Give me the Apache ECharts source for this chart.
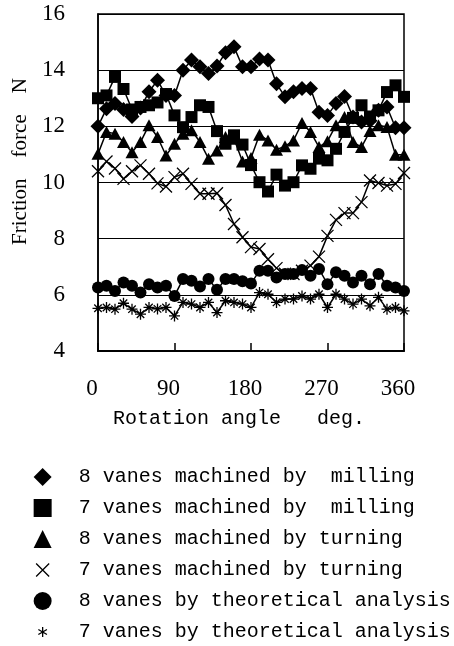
<!DOCTYPE html>
<html>
<head>
<meta charset="utf-8">
<style>
  html, body { margin: 0; padding: 0; background: #fff; }
  #main { width: 454px; height: 646px; }
</style>
<script src="https://cdn.jsdelivr.net/npm/echarts@6/dist/echarts.min.js"></script>
</head>
<body>
<div id="main"></div>
<script>
// rotation angle, deg
var angles = [0, 10, 20, 30, 40, 50, 60, 70, 80, 90, 100, 110, 120, 130, 140, 150, 160, 170, 180,
  190, 200, 210, 220, 230, 240, 250, 260, 270, 280, 290, 300, 310, 320, 330, 340, 350, 360];

// friction force, N
var mill8 = [12.0, 12.63, 12.81, 12.6, 12.35, 12.65, 13.23, 13.64, 13.1, 13.1, 14.0, 14.36, 14.12,
  13.88, 14.15, 14.62, 14.83, 14.12, 14.12, 14.4, 14.36, 13.52, 13.05, 13.23, 13.35, 13.35, 12.5,
  12.39, 12.81, 13.06, 12.33, 12.15, 12.2, 12.57, 12.69, 11.95, 11.95];
var mill7 = [13.0, 13.1, 13.76, 13.33, 12.6, 12.69, 12.75, 12.85, 13.15, 12.39, 11.97, 12.33, 12.75,
  12.69, 11.83, 11.38, 11.68, 11.35, 10.62, 10.01, 9.68, 10.28, 9.89, 10.01, 10.61, 10.49, 10.85,
  10.79, 11.2, 11.8, 12.3, 12.75, 12.35, 12.57, 13.22, 13.46, 13.05];
var turn8 = [11.02, 11.8, 11.74, 11.44, 11.08, 11.44, 12.04, 11.62, 10.96, 11.38, 11.74, 11.86, 11.44,
  10.85, 11.14, 11.62, 11.56, 10.75, 10.87, 11.7, 11.5, 11.17, 11.29, 11.5, 12.12, 11.8, 11.26,
  11.47, 12.04, 12.33, 11.44, 11.26, 11.83, 12.04, 11.98, 10.99, 10.99];
var turn7 = [10.4, 10.75, 10.5, 10.13, 10.4, 10.61, 10.31, 9.97, 9.86, 10.19, 10.31, 9.95, 9.6,
  9.6, 9.62, 9.2, 8.52, 8.05, 7.7, 7.63, 7.27, 6.95, 6.75, 6.74, 6.86, 7.04, 7.36,
  8.1, 8.67, 8.91, 8.91, 9.3, 10.07, 9.98, 9.89, 9.95, 10.34];
var theory8 = [6.26, 6.32, 6.14, 6.44, 6.32, 6.08, 6.38, 6.26, 6.32, 5.96, 6.56, 6.5, 6.3,
  6.56, 6.18, 6.56, 6.56, 6.48, 6.4, 6.86, 6.86, 6.62, 6.74, 6.74, 6.88, 6.68, 6.92,
  6.38, 6.8, 6.68, 6.44, 6.68, 6.38, 6.74, 6.32, 6.26, 6.14];
var theory7 = [5.52, 5.55, 5.49, 5.7, 5.49, 5.31, 5.55, 5.5, 5.55, 5.25, 5.73, 5.67, 5.55,
  5.73, 5.37, 5.79, 5.73, 5.67, 5.55, 6.08, 6.02, 5.73, 5.85, 5.85, 5.96, 5.85, 6.02,
  5.55, 6.02, 5.85, 5.67, 5.85, 5.61, 5.91, 5.49, 5.55, 5.43];

var names = [
  '8 vanes machined by  milling',
  '7 vanes machined by  milling',
  '8 vanes machined by turning',
  '7 vanes machined by turning',
  '8 vanes by theoretical analysis',
  '7 vanes by theoretical analysis'
];

var crossPath = 'path://M0,0L10,10M10,0L0,10';
var starPath = 'path://M0,5L10,5M5,0L5,10M1.6,1.6L8.4,8.4M8.4,1.6L1.6,8.4';
// legend icons keep some empty room around the strokes
var crossIcon = 'path://M0,0M18,18M2.5,2.5L15.5,15.5M15.5,2.5L2.5,15.5';
var starIcon = 'path://M0,0M18,18M9,4L9,14M4.7,6.5L13.3,11.5M4.7,11.5L13.3,6.5';

function pairs(values) {
  var out = [];
  for (var i = 0; i < angles.length; i++) {
    out.push([angles[i], values[i]]);
  }
  return out;
}

function makeSeries(name, values, symbol, size, stroked) {
  return {
    name: name,
    type: 'line',
    data: pairs(values),
    symbol: symbol,
    symbolSize: size,
    showAllSymbol: true,
    lineStyle: { color: '#000', width: 1.5 },
    itemStyle: stroked
      ? { color: '#000', borderColor: '#000', borderWidth: 1.3 }
      : { color: '#000' },
    emphasis: { disabled: true },
    animation: false
  };
}

var chartDom = document.getElementById('main');
var myChart = echarts.init(chartDom);
var option;

option = {
  animation: false,
  backgroundColor: '#fff',
  grid: {
    left: 98, right: 50, top: 14, bottom: 295,
    show: true, borderColor: '#000', borderWidth: 1.5
  },
  legend: {
    orient: 'vertical',
    left: 33,
    top: 467,
    height: 190,
    padding: 0,
    itemWidth: 18,
    itemHeight: 18,
    itemGap: 11,
    selectedMode: false,
    textStyle: {
      color: '#000', fontSize: 20, lineHeight: 20, fontFamily: 'Liberation Mono',
      padding: [0, 0, 0, 22]
    },
    data: [
      { name: names[0], icon: 'diamond' },
      { name: names[1], icon: 'rect' },
      { name: names[2], icon: 'triangle' },
      { name: names[3], icon: crossIcon, itemStyle: { borderWidth: 1.3, borderColor: '#000' } },
      { name: names[4], icon: 'circle' },
      { name: names[5], icon: starIcon, itemStyle: { borderWidth: 1.3, borderColor: '#000' } }
    ]
  },
  xAxis: {
    type: 'value',
    min: 0,
    max: 360,
    interval: 90,
    name: 'Rotation angle   deg.  ',
    nameLocation: 'middle',
    nameGap: 58,
    nameTextStyle: { color: '#000', fontSize: 20, fontFamily: 'Liberation Mono' },
    axisLine: { show: true, lineStyle: { color: '#000', width: 2 } },
    axisTick: { show: true, inside: true, length: 8, lineStyle: { color: '#000', width: 1.5 } },
    axisLabel: {
      color: '#000', fontSize: 23, fontFamily: 'Liberation Serif',
      margin: 26, padding: [0, 12, 0, 0]
    },
    splitLine: { show: false }
  },
  yAxis: {
    type: 'value',
    min: 4,
    max: 16,
    interval: 2,
    name: '        Friction    force    N',
    nameLocation: 'middle',
    nameRotate: 90,
    nameGap: 58,
    nameTextStyle: { color: '#000', fontSize: 21, fontFamily: 'Liberation Serif' },
    axisLine: { show: true, lineStyle: { color: '#000', width: 1.5 } },
    axisTick: { show: false },
    axisLabel: {
      color: '#000', fontSize: 23, fontFamily: 'Liberation Serif',
      margin: 33
    },
    splitLine: { show: true, lineStyle: { color: '#000', width: 1 } }
  },
  series: [
    makeSeries(names[0], mill8, 'diamond', 15, false),
    makeSeries(names[1], mill7, 'rect', 12, false),
    makeSeries(names[2], turn8, 'triangle', [13, 12], false),
    makeSeries(names[3], turn7, crossPath, 12, true),
    makeSeries(names[4], theory8, 'circle', 12, false),
    makeSeries(names[5], theory7, starPath, 11, true)
  ]
};

myChart.setOption(option);
</script>
</body>
</html>
